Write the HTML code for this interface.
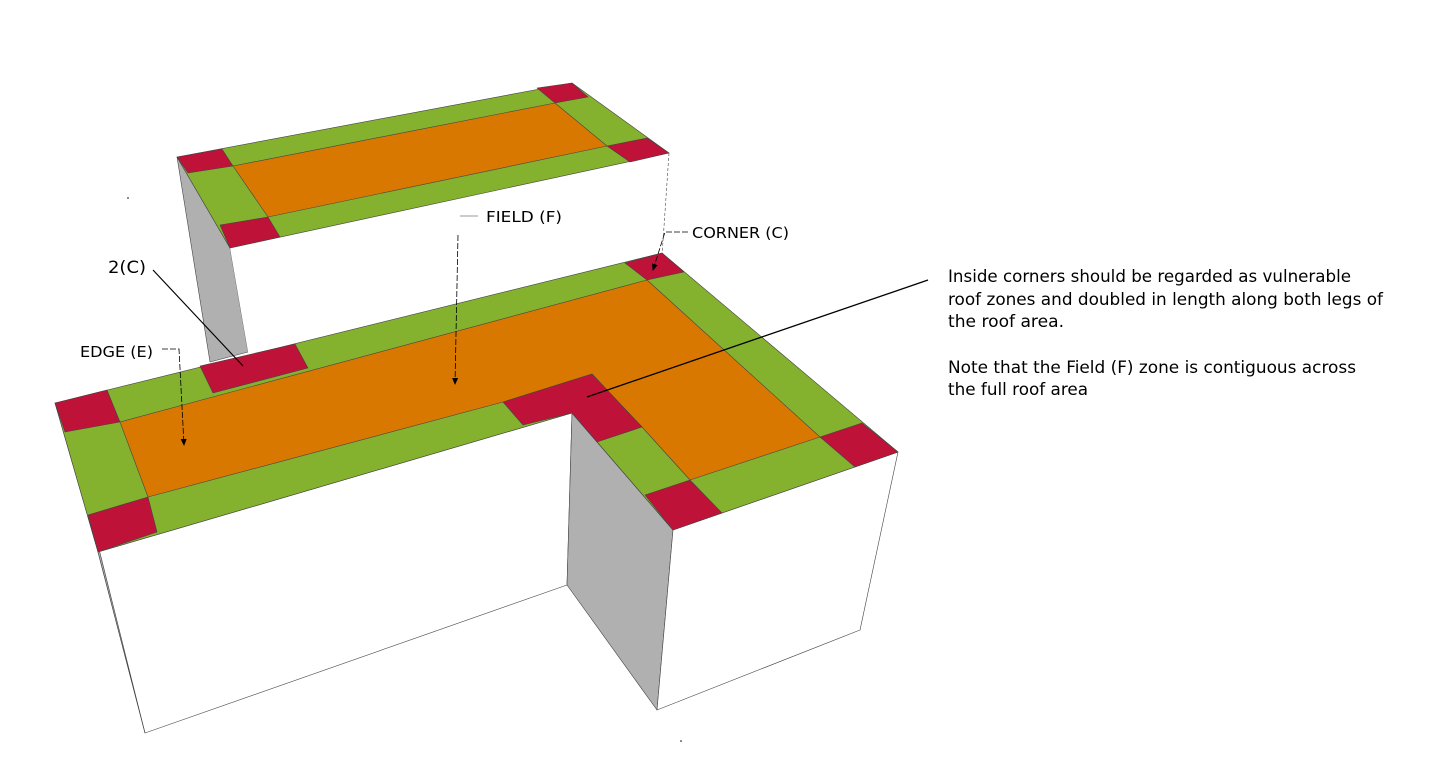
<!DOCTYPE html>
<html><head><meta charset="utf-8"><style>
html,body{margin:0;padding:0;background:#fff;}
svg{display:block;}
text{font-family:"DejaVu Sans","Liberation Sans",sans-serif;fill:#000;}
</style></head><body>
<svg width="1440" height="775" viewBox="0 0 1440 775" xmlns="http://www.w3.org/2000/svg">
<defs>
<marker id="ar" markerWidth="8" markerHeight="8" refX="6" refY="4" orient="auto" markerUnits="userSpaceOnUse"><path d="M0,1 L7,4 L0,7 z" fill="#000"/></marker>
</defs>
<g stroke="#444" stroke-width="0.6" stroke-linejoin="round">
<!-- upper block -->
<polygon points="177,157 230,248 248,352 210,362" fill="#b0b0b0"/>
<polygon points="230,248 669,153 662,255 248,352" fill="#fff" stroke="none"/>
<line x1="669" y1="153" x2="662" y2="256" stroke-dasharray="3,2"/>
<polygon points="177,157 572,83 669,153 230,248" fill="#84b12e"/>
<polygon points="233,166 555,103 607,146 268,217" fill="#d97800"/>
<polygon points="177,157 222,149 233,166 188,173" fill="#bf1238"/>
<polygon points="537,88 572,83 588,97 555,103" fill="#bf1238"/>
<polygon points="220,225 268,217 280,237 230,248" fill="#bf1238"/>
<polygon points="607,146 647,138 669,153 630,162" fill="#bf1238"/>
<!-- lower walls -->
<polygon points="98,552 572,413 567,585 145,733" fill="#fff"/>
<polygon points="55,403 98,552 145,733 100,553" fill="#b0b0b0"/>
<polygon points="572,413 673,530 657,710 567,585" fill="#b0b0b0"/>
<polygon points="673,530 898,452 860,630 657,710" fill="#fff"/>
<!-- lower top -->
<polygon points="55,403 662,253 898,452 673,530 572,413 98,552" fill="#84b12e"/>
<polygon points="120,422 647,280 820,437 690,480 642,427 592,374 503,402 148,497" fill="#d97800"/>
<polygon points="55,403 107,390 120,422 65,432" fill="#bf1238"/>
<polygon points="88,515 148,497 157,532 98,552" fill="#bf1238"/>
<polygon points="200,366 295,344 308,368 213,393" fill="#bf1238"/>
<polygon points="625,263 662,253 684,272 647,280" fill="#bf1238"/>
<polygon points="503,402 592,374 642,427 597,442 572,413 523,425" fill="#bf1238"/>
<polygon points="645,495 690,480 722,513 673,530" fill="#bf1238"/>
<polygon points="820,437 862,423 898,452 855,467" fill="#bf1238"/>
</g>
<!-- leaders -->
<g stroke="#000" fill="none">
<line x1="460" y1="216" x2="478" y2="216" stroke="#999" stroke-width="1"/>
<line x1="458" y1="235" x2="455" y2="384" stroke-width="0.8" stroke-dasharray="6,2" marker-end="url(#ar)"/>
<polyline points="688,232 665,232 653,270" stroke-width="0.8" stroke-dasharray="6,2" marker-end="url(#ar)"/>
<line x1="153" y1="270" x2="243" y2="366" stroke-width="1.2"/>
<polyline points="162,349 179,349 184,445" stroke-width="0.8" stroke-dasharray="6,2" marker-end="url(#ar)"/>
<line x1="587" y1="397" x2="928" y2="280" stroke-width="1.3"/>
</g>
<circle cx="128" cy="198" r="0.8" fill="#000"/>
<circle cx="681" cy="741" r="0.8" fill="#000"/>
<text x="486" y="222" font-size="15" textLength="76" lengthAdjust="spacingAndGlyphs">FIELD (F)</text>
<text x="692" y="238" font-size="15" textLength="97" lengthAdjust="spacingAndGlyphs">CORNER (C)</text>
<text x="108" y="273" font-size="17" textLength="38" lengthAdjust="spacingAndGlyphs">2(C)</text>
<text x="80" y="357" font-size="15" textLength="73" lengthAdjust="spacingAndGlyphs">EDGE (E)</text>
<g font-size="16.5">
<text x="948" y="282" textLength="403" lengthAdjust="spacingAndGlyphs">Inside corners should be regarded as vulnerable</text>
<text x="948" y="305" textLength="435" lengthAdjust="spacingAndGlyphs">roof zones and doubled in length along both legs of</text>
<text x="948" y="327" textLength="116" lengthAdjust="spacingAndGlyphs">the roof area.</text>
<text x="948" y="373" textLength="408" lengthAdjust="spacingAndGlyphs">Note that the Field (F) zone is contiguous across</text>
<text x="948" y="395" textLength="140" lengthAdjust="spacingAndGlyphs">the full roof area</text>
</g>
</svg>
</body></html>
